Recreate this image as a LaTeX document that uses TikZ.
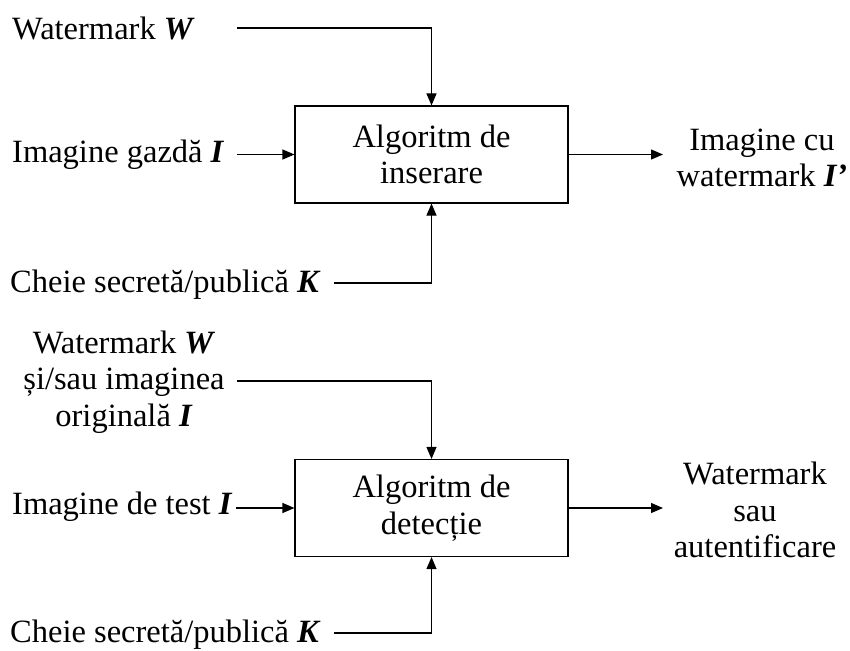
\documentclass[tikz,border=0pt]{standalone}
\usepackage{fontspec}
\setmainfont{Liberation Serif}
\usetikzlibrary{arrows.meta, positioning, calc}

\begin{document}
\begin{tikzpicture}[x=1pt, y=-1pt,
    every node/.style={font=\fontsize{32.5}{36.5}\selectfont, inner sep=0pt},
    algbox/.style={draw, line width=1.1pt, minimum width=273pt, minimum height=97pt, align=center},
    flow/.style={line width=1.1pt, -{Triangle[length=12pt, width=10pt]}}]
    \useasboundingbox (0,0) rectangle (850,650);

    % Insertion
    \node[algbox] (ins) at (431.5,154.5) {Algoritm de\\inserare};
    \node[anchor=base west] (wm) at (12,40) {Watermark \textbf{\textit{W}}};
    \node[anchor=base west] (host) at (12,162) {Imagine gazdă \textbf{\textit{I}}};
    \node[anchor=base west] (keyA) at (10,292) {Cheie secretă/publică \textbf{\textit{K}}};
    \node[align=center] (marked) at (762,158) {Imagine cu\\watermark \textbf{\textit{I’}}};

    \coordinate (wmIn) at (237,28);
    \coordinate (hostIn) at (237,154.5);
    \coordinate (keyAIn) at (334,283);
    \coordinate (insOut) at (663,154.5);
    \draw[flow] (wmIn) -| (ins.north);
    \draw[flow] (hostIn) -- (ins.west);
    \draw[flow] (keyAIn) -| (ins.south);
    \draw[flow] (ins.east) -- (insOut);

    % Detection
    \node[algbox] (det) at (431.5,508) {Algoritm de\\detecție};
    \node[align=center] (orig) at (124,382) {Watermark \textbf{\textit{W}}\\și/sau imaginea\\originală \textbf{\textit{I}}};
    \node[anchor=base west] (test) at (12,514) {Imagine de test \textbf{\textit{I}}};
    \node[anchor=base west] (keyB) at (10,642) {Cheie secretă/publică \textbf{\textit{K}}};
    \node[align=center] (result) at (755,510) {Watermark\\sau\\autentificare};

    \coordinate (origIn) at (237,381);
    \coordinate (testIn) at (236,508);
    \coordinate (keyBIn) at (334,633);
    \coordinate (detOut) at (663,508);
    \draw[flow] (origIn) -| (det.north);
    \draw[flow] (testIn) -- (det.west);
    \draw[flow] (keyBIn) -| (det.south);
    \draw[flow] (det.east) -- (detOut);
\end{tikzpicture}
\end{document}
